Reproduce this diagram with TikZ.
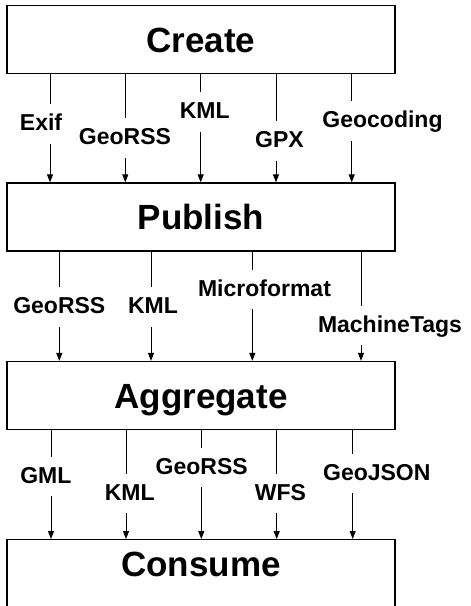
\documentclass[tikz,border=0pt]{standalone}
\usepackage{fontspec}
\setmainfont{Liberation Sans}
\usetikzlibrary{arrows.meta, positioning, calc}

\begin{document}
\begin{tikzpicture}[
        x=1pt, y=-1pt,
        stage/.style={rectangle, draw=black, line width=1.3pt, minimum width=388pt, minimum height=68pt, inner sep=0pt, text height=25pt, text depth=0pt, font=\fontsize{35}{38}\bfseries\selectfont},
        fmt/.style={rectangle, fill=white, inner xsep=2pt, inner ysep=10pt, text height=16.5pt, text depth=3pt, font=\fontsize{23}{25}\bfseries\selectfont},
        flow/.style={-{Triangle[length=8pt, width=6pt]}, line width=1pt}
    ]
        \clip (0,0) rectangle (471,606);
        \node[stage] (create) at (201,39.7) {Create};
        \node[stage] (publish) at (201,217) {Publish};
        \node[stage] (aggregate) at (201,395.5) {Aggregate};
        \node[stage, anchor=north, inner ysep=18pt, text height=19pt, text depth=50pt] (consume) at (201,539) {Consume};

        % Create -> Publish
        \foreach \x in {50,125.3,200.7,276,351.7}
            \draw[flow] (create.south -| \x,0) -- (publish.north -| \x,0);
        \node[fmt] (exif) at (41,124) {Exif};
        \node[fmt] (georssA) at (125,138) {GeoRSS};
        \node[fmt] (kmlA) at (204.7,112) {KML};
        \node[fmt] (gpx) at (279.5,141) {GPX};
        \node[fmt] (geocoding) at (382.5,121) {Geocoding};

        % Publish -> Aggregate
        \foreach \x in {59.3,151,252.3,361}
            \draw[flow] (publish.south -| \x,0) -- (aggregate.north -| \x,0);
        \node[fmt] (georssB) at (59.3,307) {GeoRSS};
        \node[fmt] (kmlB) at (153,307) {KML};
        \node[fmt] (microformat) at (264.5,289.5) {Microformat};
        \node[fmt] (machinetags) at (390,325.5) {MachineTags};

        % Aggregate -> Consume
        \foreach \x in {51,126,201.3,276.7,352.7}
            \draw[flow] (aggregate.south -| \x,0) -- (consume.north -| \x,0);
        \node[fmt] (gml) at (45.8,476.5) {GML};
        \node[fmt] (kmlC) at (129.7,493.5) {KML};
        \node[fmt] (georssC) at (201.7,467.5) {GeoRSS};
        \node[fmt] (wfs) at (280.5,493.5) {WFS};
        \node[fmt] (geojson) at (376.8,473.5) {GeoJSON};
    \end{tikzpicture}
\end{document}
